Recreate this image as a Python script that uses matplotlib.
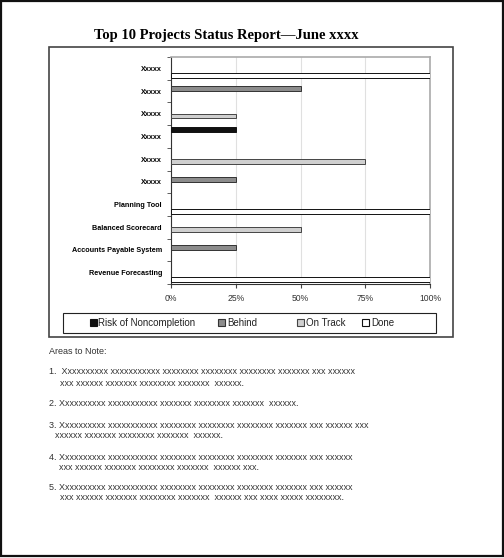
import numpy as np
import matplotlib
matplotlib.use('Agg')
import matplotlib.pyplot as plt
from matplotlib.patches import Rectangle, Patch

W, H = 504, 558
plt.rcParams.update({'font.family': 'Liberation Sans'})

# ---------- data ----------
categories = ['Xxxxx', 'Xxxxx', 'Xxxxx', 'Xxxxx', 'Xxxxx', 'Xxxxx',
              'Planning Tool', 'Balanced Scorecard',
              'Accounts Payable System', 'Revenue Forecasting']
risk = [0, 0, 0, 25, 0, 0, 0, 0, 0, 0]
behind = [0, 50, 0, 0, 0, 25, 0, 0, 25, 0]
on_track = [0, 0, 25, 0, 75, 0, 0, 50, 0, 0]
done = [100, 0, 0, 0, 0, 0, 100, 0, 0, 100]
series_names = ['Risk of Noncompletion', 'Behind', 'On Track', 'Done']
x_ticks = [0, 25, 50, 75, 100]

title = 'Top 10 Projects Status Report\u2014June xxxx'
notes_head = 'Areas to Note:'
notes = [
    ('1.  Xxxxxxxxxx xxxxxxxxxxx xxxxxxxx xxxxxxxx xxxxxxxx xxxxxxx xxx xxxxxx',
     'xxx xxxxxx xxxxxxx xxxxxxxx xxxxxxx  xxxxxx.'),
    ('2. Xxxxxxxxxx xxxxxxxxxxx xxxxxxx xxxxxxxx xxxxxxx  xxxxxx.', None),
    ('3. Xxxxxxxxxx xxxxxxxxxxx xxxxxxxx xxxxxxxx xxxxxxxx xxxxxxx xxx xxxxxx xxx',
     'xxxxxx xxxxxxx xxxxxxxx xxxxxxx  xxxxxx.'),
    ('4. Xxxxxxxxxx xxxxxxxxxxx xxxxxxxx xxxxxxxx xxxxxxxx xxxxxxx xxx xxxxxx',
     'xxx xxxxxx xxxxxxx xxxxxxxx xxxxxxx  xxxxxx xxx.'),
    ('5. Xxxxxxxxxx xxxxxxxxxxx xxxxxxxx xxxxxxxx xxxxxxxx xxxxxxx xxx xxxxxx',
     'xxx xxxxxx xxxxxxx xxxxxxxx xxxxxxx  xxxxxx xxx xxxx xxxxx xxxxxxxx.'),
]


def fx(px):
    return px / W


def fy(py):
    return 1 - py / H


fig = plt.figure(figsize=(W / 100, H / 100), dpi=100)

# page border + chart area border
fig.add_artist(Rectangle((fx(1), fy(556)), fx(502), 555 / H,
                         transform=fig.transFigure, fill=False,
                         edgecolor='#111111', lw=1.6))
fig.add_artist(Rectangle((fx(49), fy(337)), fx(404), 290 / H,
                         transform=fig.transFigure, fill=False,
                         edgecolor='#444444', lw=1.2))

fig.text(fx(226), fy(35), title, ha='center', va='center',
         family='Liberation Serif', fontweight='bold', fontsize=10.5)

ax = fig.add_axes([fx(171), fy(284), fx(430 - 171), (284 - 57) / H])

y = np.arange(len(categories))
styles = [('#111111', '#111111'), ('#8c8c8c', '#333333'),
          ('#cfcfcf', '#444444'), ('#ffffff', '#111111')]
offsets = [-0.3, -0.1, 0.1, 0.3]
for vals, off, (fc, ec) in zip([risk, behind, on_track, done], offsets, styles):
    vals = np.array(vals)
    m = vals > 0
    ax.barh(y[m] + off, vals[m], height=0.21, color=fc, edgecolor=ec,
            lw=0.7, zorder=3)

ax.set_xlim(0, 100)
ax.set_ylim(len(categories) - 0.5, -0.5)
ax.set_xticks(x_ticks)
ax.set_xticklabels([f'{t}%' for t in x_ticks], fontsize=6.2, color='#333333')
ax.set_yticks(y)
ax.set_yticklabels(categories, fontsize=5.2, fontweight='bold')
ax.set_yticks(np.arange(-0.5, len(categories), 1), minor=True)
ax.tick_params(axis='y', which='major', length=0, pad=6.5)
ax.tick_params(axis='y', which='minor', length=3, color='#444444')
ax.tick_params(axis='x', length=3, pad=4, color='#444444')
ax.grid(axis='x', color='#e0e0e0', lw=0.8, zorder=0)
for s in ['top', 'right']:
    ax.spines[s].set_color('#aaaaaa')
    ax.spines[s].set_linewidth(1.2)
ax.spines['left'].set_color('#333333')
ax.spines['bottom'].set_color('#333333')

# legend: one entry per slot, as in the original
fig.add_artist(Rectangle((fx(63), fy(333)), fx(373), 20 / H,
                         transform=fig.transFigure, fill=False,
                         edgecolor='#222222', lw=0.8))
legend_x = [89.5, 218, 297, 362]
for name, (fc, ec), lx in zip(series_names, styles, legend_x):
    leg = fig.legend([Patch(facecolor=fc, edgecolor=ec, lw=0.8)], [name],
                     loc='center left', bbox_to_anchor=(fx(lx), fy(323)),
                     frameon=False, fontsize=7, handlelength=0.75,
                     handleheight=0.75, handletextpad=0.15, borderpad=0,
                     borderaxespad=0, labelcolor='#222222')

# notes
fs = 6.5
fig.text(fx(49), fy(352), notes_head, fontsize=fs, color='#333333',
         va='center')
row_y = [(372, 383), (403, None), (425, 436), (457, 468), (487, 498)]
indent = [60, None, 55, 59, 60]
for (l1, l2), (y1, y2), ix in zip(notes, row_y, indent):
    fig.text(fx(49), fy(y1), l1, fontsize=fs, color='#333333', va='center')
    if l2:
        fig.text(fx(ix), fy(y2), l2, fontsize=fs, color='#333333',
                 va='center')

fig.savefig('out.png', dpi=100)
